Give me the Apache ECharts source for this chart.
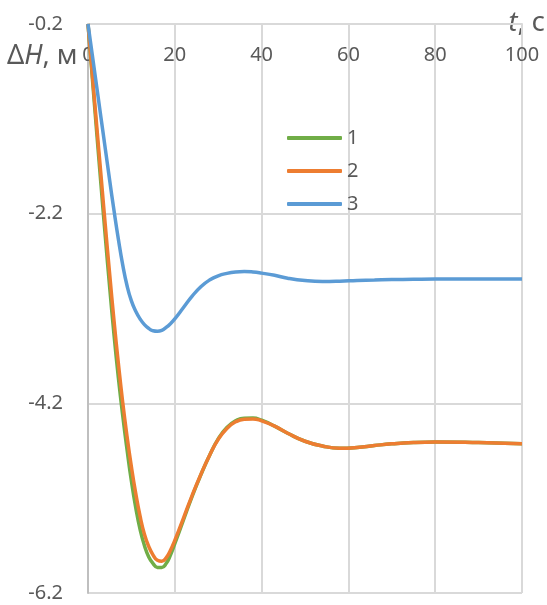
<!DOCTYPE html>
<html>
<head>
<meta charset="utf-8">
<script src="https://cdn.jsdelivr.net/npm/echarts@6/dist/echarts.min.js"></script>
<style>
html,body{margin:0;padding:0;background:#fff;}
#chart{width:547px;height:605px;}
</style>
</head>
<body>
<div id="chart"></div>
<script>
// time, s
const tValues = [0,1,2,3,4,5,6,7,8,9,10,11,12,13,14,15,16,17,18,19,20,
  22,24,26,28,30,32,34,36,38,40,43,46,50,54,58,62,66,70,75,80,90,100];
// ΔH, m  — series 1 (green)
const series1 = [-0.2,-0.77,-1.34,-1.9,-2.45,-2.98,-3.48,-3.93,-4.33,-4.69,-5.02,-5.3,-5.53,-5.7,-5.82,-5.89,-5.93,-5.93,-5.89,-5.8,-5.68,
  -5.43,-5.18,-4.955,-4.75,-4.575,-4.455,-4.385,-4.356,-4.355,-4.378,-4.44,-4.515,-4.6,-4.65,-4.673,-4.665,-4.645,-4.627,-4.613,-4.608,-4.614,-4.625];
// series 2 (orange)
const series2 = [-0.2,-0.735,-1.27,-1.8,-2.33,-2.84,-3.33,-3.78,-4.19,-4.55,-4.87,-5.15,-5.39,-5.58,-5.71,-5.8,-5.855,-5.865,-5.83,-5.75,-5.645,
  -5.41,-5.17,-4.95,-4.75,-4.58,-4.465,-4.395,-4.367,-4.364,-4.385,-4.44,-4.515,-4.6,-4.65,-4.673,-4.665,-4.645,-4.627,-4.613,-4.608,-4.614,-4.625];
// series 3 (blue)
const series3 = [-0.2,-0.53,-0.86,-1.19,-1.52,-1.85,-2.17,-2.47,-2.74,-2.96,-3.12,-3.23,-3.31,-3.37,-3.41,-3.435,-3.44,-3.43,-3.40,-3.36,-3.31,
  -3.19,-3.07,-2.97,-2.90,-2.855,-2.83,-2.815,-2.81,-2.815,-2.827,-2.85,-2.88,-2.905,-2.915,-2.912,-2.905,-2.9,-2.895,-2.892,-2.89,-2.89,-2.89];
const seriesNames = ['1','2','3'];
const seriesColors = ['#70AD47','#ED7D31','#5B9BD5'];
const yTicks = [-6.2,-4.2,-2.2,-0.2];
const xTicks = [0,20,40,60,80,100];

const allSeries = [series1, series2, series3];
const font = 'Noto Sans';
const chart = echarts.init(document.getElementById('chart'), null, {renderer:'canvas'});
chart.setOption({
  animation:false,
  backgroundColor:'#ffffff',
  grid:{left:88, right:25, top:24, bottom:12, containLabel:false},
  legend:{
    orient:'vertical', left:287, top:128, padding:0,
    itemWidth:55, itemHeight:4, itemGap:13, icon:'roundRect',
    textStyle:{fontFamily:font, fontSize:20, color:'#595959', lineHeight:20},
    data:seriesNames
  },
  xAxis:{
    type:'value', position:'top', min:0, max:100, interval:20,
    axisLine:{show:true, onZero:false, lineStyle:{color:'#d9d9d9', width:2}},
    axisTick:{show:false},
    axisLabel:{inside:true, margin:21, fontFamily:font, fontSize:20, color:'#595959', showMinLabel:true, showMaxLabel:true},
    splitLine:{show:true, lineStyle:{color:'#d9d9d9', width:2}}
  },
  yAxis:{
    type:'value', min:-6.2, max:-0.2,
    axisLine:{show:true, onZero:false, lineStyle:{color:'#bfbfbf', width:2}},
    axisTick:{show:false, customValues:yTicks},
    axisLabel:{customValues:yTicks, margin:25, fontFamily:font, fontSize:20, color:'#595959',
      formatter:function(v){return v.toFixed(1);}},
    splitLine:{show:true, lineStyle:{color:'#d9d9d9', width:2}}
  },
  graphic:[
    {type:'text', left:7, top:43, style:{
      text:'{a|Δ}{b|H}{a|, м}',
      rich:{a:{fontFamily:font, fontSize:27, fill:'#595959'}, b:{fontFamily:font, fontSize:27, fontStyle:'italic', fill:'#595959'}}
    }},
    {type:'text', right:2, top:10, style:{
      text:'{b|t}{a|, с}',
      rich:{a:{fontFamily:font, fontSize:27, fill:'#595959'}, b:{fontFamily:font, fontSize:27, fontStyle:'italic', fill:'#595959'}}
    }}
  ],
  series: allSeries.map(function(vals, i){
    return {
      name:seriesNames[i], type:'line', smooth:0.5, symbol:'none',
      lineStyle:{color:seriesColors[i], width:3.5},
      itemStyle:{color:seriesColors[i]},
      data: tValues.map(function(t, j){return [t, vals[j]];})
    };
  })
});
</script>
</body>
</html>
